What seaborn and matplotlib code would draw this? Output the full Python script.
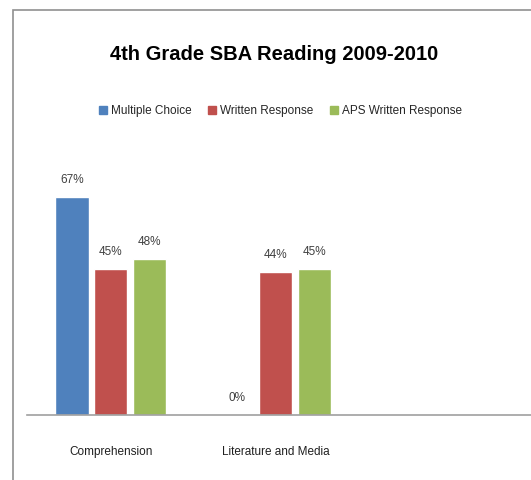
import matplotlib
matplotlib.use("Agg")
import matplotlib.pyplot as plt
from matplotlib.patches import Rectangle
import pandas as pd
import seaborn as sns

categories = ["Comprehension", "Literature and Media"]
series = ["Multiple Choice", "Written Response", "APS Written Response"]
multiple_choice = [67, 0]
written_response = [45, 44]
aps_written = [48, 45]
colors = ["#4F81BD", "#C0504D", "#9BBB59"]

rows = []
for name, vals in zip(series, [multiple_choice, written_response, aps_written]):
    for cat, v in zip(categories, vals):
        rows.append({"cat": cat, "series": name, "value": v})
df = pd.DataFrame(rows)

sns.set_style("white")
plt.rcParams["font.family"] = ["Liberation Sans", "DejaVu Sans"]

fig = plt.figure(figsize=(5.31, 4.8), dpi=100)
ax = fig.add_axes([27 / 531, 65 / 480, (560 - 27) / 531, 265 / 480])

sns.barplot(data=df, x="cat", y="value", hue="series", palette=colors,
            width=0.7, gap=0.14, ax=ax, legend=False, saturation=1)

for cont in ax.containers:
    ax.bar_label(cont, labels=[f"{int(v)}%" for v in cont.datavalues],
                 padding=8, fontsize=8.5, color="#404040")

ax.set_xlim(-0.506, 2.72)
ax.set_ylim(0, 81.5)
ax.set_xlabel("")
ax.set_ylabel("")
ax.set_yticks([])
ax.tick_params(axis="x", length=0, pad=22, labelsize=8.5, labelcolor="#202020")
for s in ["top", "right", "left"]:
    ax.spines[s].set_visible(False)
ax.spines["bottom"].set_color("#A0A0A0")
ax.spines["bottom"].set_linewidth(1.2)

# chart frame (cropped on right and bottom)
fig.patches.append(Rectangle((13 / 531, -0.1), 1.2, (470 / 480) + 0.1,
                             transform=fig.transFigure, fill=False,
                             edgecolor="#909090", linewidth=1.2))

fig.text(0.516, 1 - 55 / 480, "4th Grade SBA Reading 2009-2010",
         ha="center", va="center", fontsize=14.5, fontweight="bold", color="black")

handles = [Rectangle((0, 0), 1, 1, color=c) for c in colors]
fig.legend(handles, series, loc="center", bbox_to_anchor=(0.528, 1 - 111 / 480),
           ncol=3, frameon=False, fontsize=8.5, handlelength=0.7, handleheight=0.7,
           handletextpad=0.3, columnspacing=1.4)

fig.savefig("out.png", dpi=100)
